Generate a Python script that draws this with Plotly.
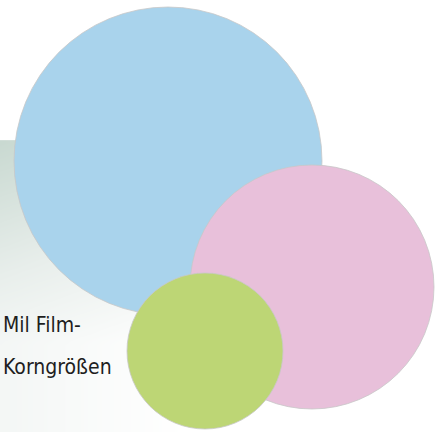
import numpy as np
import plotly.graph_objects as go

# Discs: centre x, centre y (pixels from top), radius
discs = ["Blau", "Rosa", "Grün"]
center_x = [168, 312, 205]
center_y = [161, 287, 351]
radius = [154, 122, 78]
disc_colors = ["#A9D3EC", "#E8C0DA", "#BDD675"]

label_lines = ["Mil Film-", "Korngrößen"]

W, H = 439, 432
fig = go.Figure()

# background gradient panel (style only)
gx = np.linspace(0, 260, 60)
gy = np.linspace(142, 432, 80)
X, Y = np.meshgrid(gx, gy)
fade = np.clip((Y - 142) / 200.0, 0, 1) * 0.75 + np.clip(X / 260.0, 0, 1) * 0.35
z = np.clip(fade, 0, 1)
fig.add_trace(go.Heatmap(
    x=gx, y=gy, z=z, zsmooth="best", showscale=False, hoverinfo="skip",
    colorscale=[[0, "#C9D9D1"], [0.5, "#E8EEEB"], [1, "#FFFFFF"]],
    zmin=0, zmax=1,
))

for name, cx, cy, r, col in zip(discs, center_x, center_y, radius, disc_colors):
    fig.add_shape(type="circle", xref="x", yref="y",
                  x0=cx - r, x1=cx + r, y0=cy - r, y1=cy + r,
                  fillcolor=col, line=dict(color="rgba(200,200,200,0.8)", width=1),
                  layer="above")

font = dict(family="DejaVu Sans Condensed, Liberation Sans Narrow, sans-serif", size=21, color="#1e1e1e")
fig.add_annotation(x=1, y=325, xref="x", yref="y", text=label_lines[0],
                   showarrow=False, xanchor="left", yanchor="middle", font=font)
fig.add_annotation(x=1, y=367, xref="x", yref="y", text=label_lines[1],
                   showarrow=False, xanchor="left", yanchor="middle", font=font)

fig.update_layout(
    width=W, height=H, margin=dict(l=0, r=0, t=0, b=0),
    paper_bgcolor="white", plot_bgcolor="white", showlegend=False,
    xaxis=dict(range=[0, W], visible=False, fixedrange=True),
    yaxis=dict(range=[H, 0], visible=False, fixedrange=True),
)
fig.write_html("out.html", config={"displayModeBar": False},
               post_script="document.body.style.margin='0';document.body.style.overflow='hidden';")
